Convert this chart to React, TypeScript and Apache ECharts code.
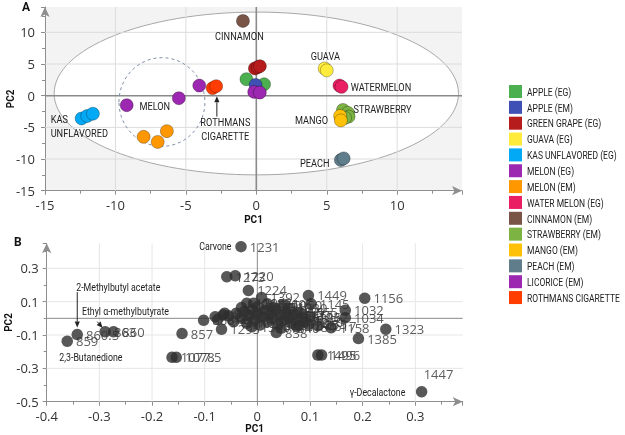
import React, { useEffect, useRef } from "react";
import * as echarts from "echarts";

// ---------- Panel A : scores ----------
const groupNames = [
  "APPLE (EG)",
  "APPLE (EM)",
  "GREEN GRAPE (EG)",
  "GUAVA (EG)",
  "KAS UNFLAVORED (EG)",
  "MELON (EG)",
  "MELON (EM)",
  "WATER MELON (EG)",
  "CINNAMON (EM)",
  "STRAWBERRY (EM)",
  "MANGO (EM)",
  "PEACH (EM)",
  "LICORICE (EM)",
  "ROTHMANS CIGARETTE",
];
const groupColors = [
  "#4caf50", "#3f51b5", "#b71c1c", "#ffeb3b", "#03a9f4", "#9c27b0", "#ff9800",
  "#e91e63", "#795548", "#7cb342", "#ffc107", "#607d8b", "#9c27b0", "#ff3d00",
];

const appleEG = [[-0.7, 2.6], [0.55, 1.8]];
const appleEM = [[-0.05, 1.7]];
const greenGrapeEG = [[-0.1, 4.3], [0.1, 4.5], [0.25, 4.65]];
const guavaEG = [[4.85, 4.3], [5.0, 4.0]];
const kasUnflavoredEG = [[-12.4, -3.6], [-12.0, -3.2], [-11.6, -2.85]];
const melonEG = [[-9.2, -1.5], [-5.5, -0.4], [-4.05, 1.6]];
const melonEM = [[-8.0, -6.5], [-7.0, -7.3], [-6.35, -5.6]];
const waterMelonEG = [[5.9, 1.6], [6.05, 1.4]];
const cinnamonEM = [[-0.95, 11.8]];
const strawberryEM = [[6.15, -2.25], [6.5, -2.7], [6.55, -3.3], [6.3, -3.5]];
const mangoEM = [[5.95, -3.2], [6.0, -3.9]];
const peachEM = [[6.0, -10.15], [6.2, -9.9]];
const licoriceEM = [[-0.15, 0.6], [0.25, 0.5]];
const rothmans = [[-3.1, 1.2], [-2.85, 1.5]];

const groupPoints = [
  appleEG, appleEM, greenGrapeEG, guavaEG, kasUnflavoredEG, melonEG, melonEM,
  waterMelonEG, cinnamonEM, strawberryEM, mangoEM, peachEM, licoriceEM, rothmans,
];

const confidenceEllipse = [0, 0.35, 14.35, 12.85];
const melonCircle = [-6.7, -1.0, 3.05, 7.0];

const gridLinesAX = [-10, -5, 5, 10];
const gridLinesAY = [-10, -5, 5, 10];

const annotationsA = [
  { text: "CINNAMON", x: -1.2, y: 9.45, align: "center" },
  { text: "GUAVA", x: 4.9, y: 6.2, align: "center" },
  { text: "WATERMELON", x: 6.7, y: 1.4, align: "left" },
  { text: "STRAWBERRY", x: 6.9, y: -2.2, align: "left" },
  { text: "MANGO", x: 5.1, y: -3.8, align: "right" },
  { text: "PEACH", x: 5.2, y: -10.6, align: "right" },
  { text: "MELON", x: -8.3, y: -1.6, align: "left" },
  { text: "KAS\nUNFLAVORED", x: -14.6, y: -4.8, align: "left" },
  { text: "ROTHMANS\nCIGARETTE", x: -2.2, y: -5.3, align: "center" },
];
const arrowsA = [[-2.8, -3.3, -2.8, -0.1]];

// ---------- Panel B : loadings ----------
const loadings = [
  [-0.361, -0.137, "859"],
  [-0.342, -0.097, "860.5"],
  [-0.289, -0.081, "863"],
  [-0.273, -0.081, "860"],
  [-0.162, -0.234, "1077.5"],
  [-0.154, -0.234, "1078"],
  [-0.143, -0.091, "857"],
  [-0.102, -0.012, "868"],
  [-0.068, -0.066, "1295"],
  [-0.062, 0.03, "1113"],
  [-0.058, 0.25, "1273"],
  [-0.042, 0.256, "1220"],
  [-0.031, 0.43, "1231"],
  [-0.017, 0.167, "1224"],
  [0.097, 0.137, "1449"],
  [0.102, 0.087, "1145"],
  [0.204, 0.121, "1156"],
  [0.167, 0.048, "1032"],
  [0.167, 0.004, "1034"],
  [0.244, -0.065, "1323"],
  [0.192, -0.121, "1385"],
  [0.115, -0.22, "1495"],
  [0.122, -0.22, "1496"],
  [0.115, -0.045, "1617"],
  [0.14, -0.056, "1158"],
  [0.036, -0.085, "838"],
  [0.312, -0.44, "1447"],
  [0.08, 0.035, "1555"],
  [0.008, 0.125, "1392"],
  [-0.02, 0.091, "1202"],
  [-0.007, 0.091, "1187"],
  [0.019, 0.087, "1060"],
  [0.05, 0.08, "1050"],
  [-0.08, 0.01, "1028"],
  [-0.075, -0.005, "872"],
  [-0.055, 0.015, "889"],
  [-0.045, -0.02, "901"],
  [-0.04, 0.03, "945"],
  [-0.03, 0.0, "970"],
  [-0.025, 0.04, "982"],
  [-0.02, -0.03, "1001"],
  [-0.015, 0.02, "1010"],
  [-0.01, 0.05, "1018"],
  [-0.005, -0.01, "1024"],
  [0.0, 0.03, "1048"],
  [0.005, -0.04, "1053"],
  [0.01, 0.01, "1066"],
  [0.015, 0.045, "1072"],
  [0.02, -0.02, "1082"],
  [0.025, 0.025, "1091"],
  [0.03, 0.0, "1099"],
  [0.035, 0.05, "1104"],
  [0.04, -0.035, "1117"],
  [0.045, 0.02, "1124"],
  [0.05, -0.01, "1131"],
  [0.055, 0.035, "1139"],
  [0.06, 0.0, "1163"],
  [0.065, -0.03, "1170"],
  [0.07, 0.02, "1177"],
  [0.075, -0.05, "1184"],
  [0.085, 0.005, "1193"],
  [0.09, -0.02, "1210"],
  [0.079, -0.042, "1245"],
  [0.097, -0.035, "1255"],
  [0.1, 0.01, "1262"],
  [-0.065, 0.02, "1015"],
  [0.0, 0.07, "1290"],
  [-0.03, 0.065, "1300"],
  [0.03, 0.065, "1310"],
  [0.06, 0.06, "1330"],
  [0.045, -0.06, "1340"],
  [-0.01, -0.05, "1350"],
];

const gridLinesBX = [-0.3, -0.2, -0.1, 0.1, 0.2, 0.3];
const gridLinesBY = [-0.3, -0.1, 0.1, 0.3];

const annotationsB = [
  { text: "Carvone", x: -0.049, y: 0.435, align: "right" },
  { text: "2-Methylbutyl acetate", x: -0.344, y: 0.19, align: "left" },
  { text: "Ethyl \u03b1-methylbutyrate", x: -0.333, y: 0.045, align: "left" },
  { text: "2,3-Butanedione", x: -0.376, y: -0.232, align: "left" },
  { text: "\u03b3-Decalactone", x: 0.281, y: -0.442, align: "right" },
];
const arrowsB = [
  [-0.342, 0.157, -0.342, -0.055],
  [-0.304, -0.02, -0.294, -0.057],
];

// ---------- styling ----------
const NUM_FONT = '"Open Sans", "Noto Sans", sans-serif';
const COND_FONT = "Roboto, sans-serif";
const COND_SCALE = 0.8;
const AXIS_COLOR = "#8e8e8e";

function lineSeries(idx: number, values: number[], dir: "v" | "h", color: string, width: number, z: number) {
  return {
    type: "custom",
    xAxisIndex: idx,
    yAxisIndex: idx,
    z,
    silent: true,
    clip: false,
    data: values.map((v) => (dir === "v" ? [v, 0] : [0, v])),
    renderItem: (params: any, api: any) => {
      const cs = params.coordSys;
      const p = api.coord([api.value(0), api.value(1)]);
      const shape =
        dir === "v"
          ? { x1: p[0], y1: cs.y, x2: p[0], y2: cs.y + cs.height }
          : { x1: cs.x, y1: p[1], x2: cs.x + cs.width, y2: p[1] };
      return { type: "line", shape, style: { stroke: color, lineWidth: width } };
    },
  };
}

function ellipseSeries(e: number[], style: any, z: number) {
  return {
    type: "custom",
    xAxisIndex: 0,
    yAxisIndex: 0,
    z,
    silent: true,
    data: [e],
    renderItem: (params: any, api: any) => {
      const c = api.coord([api.value(0), api.value(1)]);
      const s = api.size([api.value(2), api.value(3)]);
      return { type: "ellipse", shape: { cx: c[0], cy: c[1], rx: s[0], ry: s[1] }, style };
    },
  };
}

function textSeries(idx: number, notes: any[], fontSize: number) {
  return {
    type: "custom",
    xAxisIndex: idx,
    yAxisIndex: idx,
    z: 6,
    silent: true,
    clip: false,
    data: notes.map((a) => [a.x, a.y]),
    renderItem: (params: any, api: any) => {
      const n = notes[params.dataIndex];
      const c = api.coord([api.value(0), api.value(1)]);
      return {
        type: "text",
        x: c[0],
        y: c[1],
        scaleX: COND_SCALE,
        style: {
          text: n.text,
          fontFamily: COND_FONT,
          fontSize,
          lineHeight: fontSize + 2,
          fill: "#222",
          align: n.align,
          verticalAlign: "middle",
        },
      };
    },
  };
}

function arrowSeries(idx: number, arrows: number[][]) {
  return {
    type: "custom",
    xAxisIndex: idx,
    yAxisIndex: idx,
    z: 6,
    silent: true,
    clip: false,
    data: arrows,
    renderItem: (params: any, api: any) => {
      const p1 = api.coord([api.value(0), api.value(1)]);
      const p2 = api.coord([api.value(2), api.value(3)]);
      const dx = p2[0] - p1[0];
      const dy = p2[1] - p1[1];
      const len = Math.sqrt(dx * dx + dy * dy) || 1;
      const ux = dx / len;
      const uy = dy / len;
      const hl = 6;
      const hw = 2.6;
      const bx = p2[0] - ux * hl;
      const by = p2[1] - uy * hl;
      return {
        type: "group",
        children: [
          { type: "line", shape: { x1: p1[0], y1: p1[1], x2: bx, y2: by }, style: { stroke: "#222", lineWidth: 1 } },
          {
            type: "polygon",
            shape: { points: [[p2[0], p2[1]], [bx - uy * hw, by + ux * hw], [bx + uy * hw, by - ux * hw]] },
            style: { fill: "#222" },
          },
        ],
      };
    },
  };
}

function axisCommon(extra: any) {
  return {
    type: "value",
    axisLine: {
      show: true,
      onZero: false,
      symbol: ["none", "arrow"],
      symbolSize: [7, 10],
      lineStyle: { color: AXIS_COLOR, width: 1 },
    },
    axisTick: { show: true, length: 4, lineStyle: { color: AXIS_COLOR } },
    minorTick: { show: true, splitNumber: 2, length: 3, lineStyle: { color: AXIS_COLOR } },
    splitLine: { show: false },
    axisLabel: { showMaxLabel: false, fontFamily: NUM_FONT, fontSize: 13, color: "#333" },
    nameLocation: "middle",
    nameMoveOverlap: false,
    nameTextStyle: { fontFamily: COND_FONT, fontWeight: "bold", fontSize: 10, color: "#111" },
    ...extra,
  };
}

export default function App() {
  const ref = useRef<HTMLDivElement>(null);

  useEffect(() => {
    if (!ref.current) return;
    const chart = echarts.init(ref.current, undefined, { renderer: "svg" });

    const scoreSeries = groupNames.map((name, i) => ({
      type: "scatter",
      name,
      xAxisIndex: 0,
      yAxisIndex: 0,
      z: 5,
      symbolSize: 13,
      data: groupPoints[i],
      itemStyle: { color: groupColors[i], borderColor: "rgba(0,0,0,0.35)", borderWidth: 0.8, opacity: 1 },
    }));

    const legendTop = 85;
    const legendStep = 15.85;
    const legendItems: any[] = [];
    groupNames.forEach((name, i) => {
      legendItems.push({
        type: "rect",
        shape: { x: 509, y: legendTop + i * legendStep, width: 13, height: 13 },
        style: { fill: groupColors[i] },
      });
      legendItems.push({
        type: "text",
        x: 527,
        y: legendTop + i * legendStep + 6.8,
        scaleX: 0.74,
        style: { text: name, fontFamily: COND_FONT, fontSize: 11.5, fill: "#222", verticalAlign: "middle" },
      });
    });

    chart.setOption({
      animation: false,
      grid: [
        { left: 45, top: 7, width: 417, height: 183.7, show: true, backgroundColor: "#f3f3f3", borderWidth: 0, outerBoundsMode: "none", containLabel: false },
        { left: 46.7, top: 243.3, width: 416, height: 158.4, show: false, outerBoundsMode: "none", containLabel: false },
      ],
      xAxis: [
        axisCommon({ gridIndex: 0, min: -15, max: 14.6, interval: 5, name: "PC1", nameGap: 24 }),
        axisCommon({ gridIndex: 1, min: -0.4, max: 0.39, interval: 0.1, name: "PC1", nameGap: 22 }),
      ],
      yAxis: [
        axisCommon({
          gridIndex: 0, min: -15, max: 14, interval: 5, name: "PC2", nameGap: 30,
          axisLabel: { showMaxLabel: false, fontFamily: NUM_FONT, fontSize: 13, color: "#333", margin: 10 },
        }),
        axisCommon({ gridIndex: 1, min: -0.5, max: 0.45, interval: 0.2, name: "PC2", nameGap: 33 }),
      ],
      graphic: [
        { type: "text", x: 22, y: 1, style: { text: "A", fontFamily: COND_FONT, fontWeight: "bold", fontSize: 12, fill: "#111" } },
        { type: "text", x: 14, y: 236, style: { text: "B", fontFamily: COND_FONT, fontWeight: "bold", fontSize: 12, fill: "#111" } },
        ...legendItems,
      ],
      series: [
        ellipseSeries(confidenceEllipse, { fill: "#ffffff", stroke: "#a8a8a8", lineWidth: 1 }, 1),
        lineSeries(0, gridLinesAX, "v", "#dcdcdc", 1, 2),
        lineSeries(0, gridLinesAY, "h", "#dcdcdc", 1, 2),
        lineSeries(0, [0], "v", "#8a8a8a", 1.6, 3),
        lineSeries(0, [0], "h", "#8a8a8a", 1.6, 3),
        ellipseSeries(melonCircle, { fill: "none", stroke: "#7f90a8", lineWidth: 1, lineDash: [3, 3] }, 3),
        ...scoreSeries,
        textSeries(0, annotationsA, 11.5),
        arrowSeries(0, arrowsA),
        lineSeries(1, gridLinesBX, "v", "#e6e6e6", 1, 2),
        lineSeries(1, gridLinesBY, "h", "#e6e6e6", 1, 2),
        lineSeries(1, [0], "v", "#8a8a8a", 1, 3),
        lineSeries(1, [0], "h", "#8a8a8a", 1, 3),
        {
          type: "scatter",
          xAxisIndex: 1,
          yAxisIndex: 1,
          z: 5,
          symbolSize: 11.5,
          itemStyle: { color: "#2e2e2e" },
          data: loadings.map((l) => ({
            value: [l[0], l[1]],
            name: l[2],
            label: l[2] === "1447" ? { position: "top", align: "left", offset: [2, -2] } : undefined,
          })),
          label: {
            show: true,
            position: "right",
            distance: 3,
            formatter: "{b}",
            fontFamily: NUM_FONT,
            fontSize: 13,
            color: "#333",
          },
        },
        textSeries(1, annotationsB, 11),
        arrowSeries(1, arrowsB),
      ],
    });

    return () => chart.dispose();
  }, []);

  return <div ref={ref} style={{ position: "fixed", left: 0, top: 0, width: 625, height: 435 }} />;
}
